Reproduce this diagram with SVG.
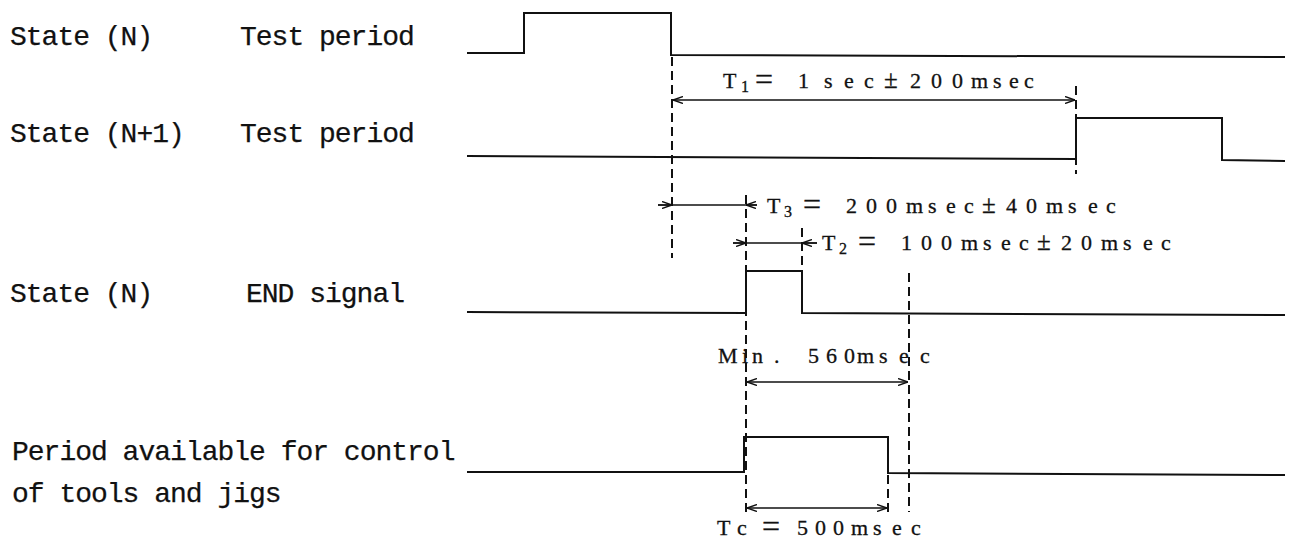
<svg xmlns="http://www.w3.org/2000/svg" width="1291" height="542" viewBox="0 0 1291 542">
<style>
.bg{fill:#fff}
.sig{fill:none;stroke:#111;stroke-width:2;stroke-linejoin:miter}
.dash{fill:none;stroke:#111;stroke-width:2;stroke-dasharray:9 5}
.dim{fill:none;stroke:#111;stroke-width:1.4}
.lbl{font-family:"Liberation Mono",monospace;font-size:28px;letter-spacing:-1px;fill:#111;stroke:#111;stroke-width:0.25}
.tm{font-family:"Liberation Serif",serif;font-size:22px;fill:#111;stroke:#111;stroke-width:0.3}
.sub{font-size:16px}
.eq{font-size:32px}
.pm{font-size:25px}
</style>
<defs>
<marker id="ah" viewBox="0 0 10 8" refX="10" refY="4" markerWidth="10" markerHeight="8" orient="auto-start-reverse" markerUnits="userSpaceOnUse">
<path d="M0,0.5 L10,4 L0,7.5" fill="none" stroke="#111" stroke-width="1.4"/>
</marker>
</defs>
<rect class="bg" x="0" y="0" width="1291" height="542"/>

<g id="sig-state-n-test">
<text class="lbl" x="10" y="45">State (N)</text>
<text class="lbl" x="240" y="45">Test period</text>
<path class="sig" d="M467,53 L524,53 L524,13 L671,13 L671,55 L1285,57"/>
</g>

<g id="sig-state-n1-test">
<text class="lbl" x="10" y="142">State (N+1)</text>
<text class="lbl" x="240" y="142">Test period</text>
<path class="sig" d="M467,156 L1076,159 L1076,118 L1222,118 L1222,160 L1285,161"/>
</g>

<g id="sig-end">
<text class="lbl" x="10" y="302">State (N)</text>
<text class="lbl" x="246" y="302">END signal</text>
<path class="sig" d="M467,312 L746,313 L746,271 L802,271 L802,313 L1285,315"/>
</g>

<g id="sig-period">
<text class="lbl" x="12" y="460">Period available for control</text>
<text class="lbl" x="12" y="502">of tools and jigs</text>
<path class="sig" d="M467,472 L744,472 L744,437 L888,437 L888,473 L1285,475"/>
</g>

<g id="connectors">
<line class="dash" x1="672" y1="57" x2="672" y2="258"/>
<line class="dash" x1="1076" y1="86" x2="1076" y2="174"/>
<line class="dash" x1="746" y1="195" x2="746" y2="514"/>
<line class="dash" x1="802" y1="228" x2="802" y2="271"/>
<line class="dash" x1="909" y1="273" x2="909" y2="512"/>
<line class="dash" x1="888" y1="475" x2="888" y2="514"/>

<line class="dim" x1="673" y1="100" x2="1075" y2="100" marker-start="url(#ah)" marker-end="url(#ah)"/>

<line class="dim" x1="658" y1="205" x2="757" y2="205"/>
<line class="dim" x1="658" y1="205" x2="672" y2="205" marker-end="url(#ah)"/>
<line class="dim" x1="757" y1="205" x2="746" y2="205" marker-end="url(#ah)"/>

<line class="dim" x1="733" y1="243" x2="817" y2="243"/>
<line class="dim" x1="733" y1="243" x2="746" y2="243" marker-end="url(#ah)"/>
<line class="dim" x1="817" y1="243" x2="802" y2="243" marker-end="url(#ah)"/>

<line class="dim" x1="747" y1="382" x2="908" y2="382" marker-start="url(#ah)" marker-end="url(#ah)"/>
<line class="dim" x1="747" y1="508" x2="887" y2="508" marker-start="url(#ah)" marker-end="url(#ah)"/>
</g>

<g id="labels">
<text class="tm" y="88"><tspan x="723">T</tspan><tspan class="sub" x="741" dy="4">1</tspan><tspan class="eq" x="755" dy="-2">=</tspan><tspan x="798" dy="-2">1</tspan><tspan x="824 844 864">sec</tspan><tspan class="pm" x="884">±</tspan><tspan x="910 931 952 971 993 1009 1024">200msec</tspan></text>

<text class="tm" y="213"><tspan x="767">T</tspan><tspan class="sub" x="784" dy="4">3</tspan><tspan class="eq" x="803" dy="-2">=</tspan><tspan x="846 866 886 906 928 946 964" dy="-2">200msec</tspan><tspan class="pm" x="982">±</tspan><tspan x="1006 1026 1046 1068 1088 1106">40msec</tspan></text>

<text class="tm" y="250"><tspan x="822">T</tspan><tspan class="sub" x="839" dy="4">2</tspan><tspan class="eq" x="858" dy="-2">=</tspan><tspan x="901 921 941 961 983 1001 1019" dy="-2">100msec</tspan><tspan class="pm" x="1037">±</tspan><tspan x="1061 1081 1101 1123 1143 1161">20msec</tspan></text>

<text class="tm" y="363"><tspan x="718 742 752 774 808 826 844 857 879 899 920">Min.560msec</tspan></text>

<text class="tm" y="535"><tspan x="717 737">Tc</tspan><tspan class="eq" x="762" dy="2">=</tspan><tspan x="797 815 833 851 873 892 911" dy="-2">500msec</tspan></text>
</g>
</svg>
